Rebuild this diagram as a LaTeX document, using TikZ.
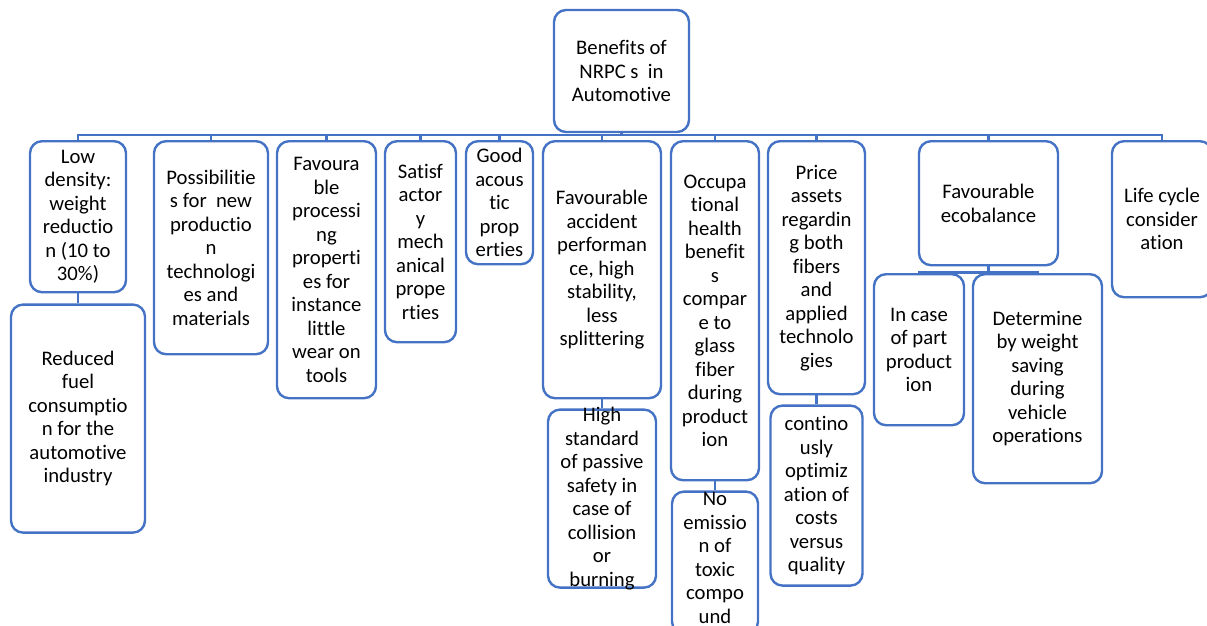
\documentclass[tikz,border=0pt]{standalone}
\usepackage{fontspec}
\setmainfont{Carlito}[Ligatures=NoCommon]
\usepackage{tikz}
\usetikzlibrary{positioning}
\definecolor{bblue}{RGB}{68,114,196}

\begin{document}
\begin{tikzpicture}[x=1pt, y=-1pt, node distance=9pt,
  box/.style={draw=bblue, line width=2.4pt, rounded corners=12pt, align=center, inner sep=2pt,
    font=\fontsize{20.7pt}{23.5pt}\selectfont},
  topbox/.style={box, anchor=north},
  link/.style={draw=bblue, line width=2.4pt}]
        \clip (0,0) rectangle (1207,625);
        \node[box, minimum width=135pt, minimum height=122pt] (root) at (621.5,71) {Benefits of\\NRPC s~ in\\Automotive};
        % first level
        \node[topbox, minimum width=96pt, minimum height=151pt] (low) at (78,140) {Low\\density:\\weight\\reductio\\n (10 to\\30\%)};
        \node[topbox, minimum width=114pt, minimum height=213pt] (poss) at (211,140) {Possibilitie\\s for~ new\\productio\\n\\technologi\\es and\\materials};
        \node[topbox, minimum width=99pt, minimum height=257pt] (proc) at (326.5,140) {Favoura\\ble\\processi\\ng\\properti\\es for\\instance\\little\\wear on\\tools};
        \node[topbox, minimum width=71pt, minimum height=201pt] (mech) at (420.5,140) {Satisf\\actor\\y\\mech\\anical\\prope\\rties};
        \node[topbox, minimum width=67pt, minimum height=123pt] (acou) at (499.5,140) {Good\\acous\\tic\\prop\\erties};
        \node[topbox, minimum width=118pt, minimum height=257pt] (acc) at (602,140) {Favourable\\accident\\performan\\ce, high\\stability,\\less\\splittering};
        \node[topbox, minimum width=88pt, minimum height=339pt] (occ) at (715,140) {Occupa\\tional\\health\\benefit\\s\\compar\\e to\\glass\\fiber\\during\\product\\ion};
        \node[topbox, minimum width=97pt, minimum height=253pt] (price) at (816.5,140) {Price\\assets\\regardin\\g both\\fibers\\and\\applied\\technolo\\gies};
        \node[topbox, minimum width=139pt, minimum height=124pt] (eco) at (988.5,140) {Favourable\\ecobalance};
        \node[topbox, minimum width=100pt, minimum height=156pt] (life) at (1162,140) {Life cycle\\consider\\ation};
        % second level
        \node[box, minimum width=134pt, minimum height=228pt] (fuel) [below=10pt of low] {Reduced\\fuel\\consumptio\\n for the\\automotive\\industry};
        \node[box, minimum width=108pt, minimum height=178pt, inner ysep=-6pt] (safe) [below=of acc] {High\\standard\\of passive\\safety in\\case of\\collision\\or\\burning};
        \node[box, minimum width=86pt, minimum height=142pt, inner ysep=-5pt] (emis) [below=of occ] {No\\emissio\\n of\\toxic\\compo\\und\rule[-10pt]{0pt}{10pt}};
        \node[box, minimum width=92pt, minimum height=180pt] (cost) [below=of price] {contino\\usly\\optimiz\\ation of\\costs\\versus\\quality};
        \node[topbox, minimum width=90pt, minimum height=151pt] (part) at (919,273) {In case\\of part\\product\\ion};
        \node[topbox, minimum width=129pt, minimum height=209pt] (weight) at (1037.5,273) {Determine\\by weight\\saving\\during\\vehicle\\operations};
        % connectors
        \draw[link] (root.south) -- ++(0,2) -| (low.north);
        \draw[link] (root.south) -- ++(0,2) -| (poss.north);
        \draw[link] (root.south) -- ++(0,2) -| (proc.north);
        \draw[link] (root.south) -- ++(0,2) -| (mech.north);
        \draw[link] (root.south) -- ++(0,2) -| (acou.north);
        \draw[link] (root.south) -- ++(0,2) -| (acc.north);
        \draw[link] (root.south) -- ++(0,2) -| (occ.north);
        \draw[link] (root.south) -- ++(0,2) -| (price.north);
        \draw[link] (root.south) -- ++(0,2) -| (eco.north);
        \draw[link] (root.south) -- ++(0,2) -| (life.north);
        \draw[link] (low) -- (fuel);
        \draw[link] (acc) -- (safe);
        \draw[link] (occ) -- (emis);
        \draw[link] (price) -- (cost);
        \draw[link] (eco.south) -- ++(0,6) -| (part.north);
        \draw[link] (eco.south) -- ++(0,6) -| (weight.north);
    \end{tikzpicture}
\end{document}
